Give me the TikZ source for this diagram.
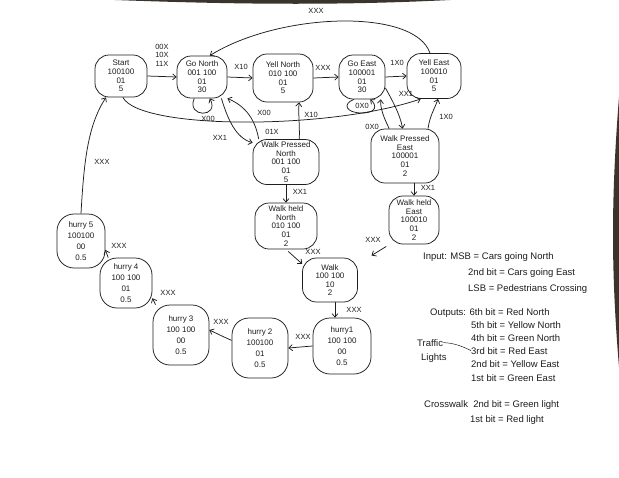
\documentclass[tikz,border=0pt]{standalone}
\usepackage{fontspec}
\setmainfont{Liberation Sans}
\usetikzlibrary{arrows.meta}
\definecolor{ink}{HTML}{1E1E1E}
\definecolor{paperedge}{HTML}{3A342D}
\begin{document}
\begin{tikzpicture}[x=1pt,y=-1pt,
  pen/.style={draw=ink, line width=0.75pt},
  state/.style={pen, rounded corners=14pt, align=center, inner sep=0pt, text=ink,
    font=\fontsize{8}{8.6}\selectfont},
  hstate/.style={state, rounded corners=17pt, font=\fontsize{8}{11}\selectfont},
  tr/.style={pen, -{Straight Barb[length=3.5pt,width=6pt]}},
  lbl/.style={text=ink, inner sep=0pt, align=center, font=\fontsize{7.5}{8.5}\selectfont},
  legend/.style={text=ink, inner sep=0pt, anchor=base west, font=\fontsize{9.5}{11}\selectfont}]

\useasboundingbox (0,0) rectangle (619,477);
\fill[white] (0,0) rectangle (619,477);
% dark edges of the sheet
\fill[paperedge] (115,0) .. controls (250,5) and (350,5) .. (450,0) -- cycle;
\fill[paperedge] (619,97) .. controls (611,200) and (611,270) .. (619,367) -- cycle;

% ---------- states ----------
\node[state, minimum width=52pt, minimum height=42pt] (start) at (121,76) {Start\\100100\\01\\5};
\node[state, minimum width=50pt, minimum height=42pt] (gonorth) at (202,77) {Go North\\001 100\\01\\30};
\node[state, minimum width=60pt, minimum height=48pt] (yellnorth) at (283,78) {Yell North\\010 100\\01\\5};
\node[state, minimum width=46pt, minimum height=44pt] (goeast) at (362,77) {Go East\\100001\\01\\30};
\node[state, minimum width=54pt, minimum height=45pt] (yelleast) at (434,76) {Yell East\\100010\\01\\5};
\node[state, minimum width=66pt, minimum height=45pt] (wpn) at (286,162) {Walk Pressed\\North\\001 100\\01\\5};
\node[state, minimum width=68pt, minimum height=54pt] (wpe) at (405,156) {Walk Pressed\\East\\100001\\01\\2};
\node[state, minimum width=62pt, minimum height=46pt] (whn) at (286,226) {Walk held\\North\\010 100\\01\\2};
\node[state, minimum width=50pt, minimum height=48pt] (whe) at (414,220) {Walk held\\East\\100010\\01\\2};
\node[state, minimum width=55pt, minimum height=44pt] (walk) at (330,280) {Walk\\100 100\\10\\2};
\node[hstate, minimum width=58pt, minimum height=56pt] (hurry1) at (342,346) {hurry1\\100 100\\00\\0.5};
\node[hstate, minimum width=56pt, minimum height=60pt] (hurry2) at (260,348) {hurry 2\\100100\\01\\0.5};
\node[hstate, minimum width=56pt, minimum height=60pt] (hurry3) at (181,335) {hurry 3\\100 100\\00\\0.5};
\node[hstate, minimum width=52pt, minimum height=50pt] (hurry4) at (126,283) {hurry 4\\100 100\\01\\0.5};
\node[hstate, minimum width=48pt, minimum height=54pt] (hurry5) at (81,241) {hurry 5\\100100\\00\\0.5};

% ---------- transitions ----------
\draw[tr] (start.east) -- (gonorth.west);
\draw[tr] (gonorth.east) -- (yellnorth.west);
\draw[tr] (yellnorth.east) -- (goeast.west);
\draw[tr] (goeast.east) -- (yelleast.west);
\draw[tr] (yelleast.100) .. controls (415,8) and (280,12) .. (gonorth.70);
\draw[tr] (gonorth.250) .. controls (186,118) and (220,118) .. (gonorth.290);
\draw[tr] ([xshift=-6pt]gonorth.south east) .. controls (228,120) and (236,138) .. (wpn.150);
\draw[tr] (wpn.140) .. controls (256,125) and (250,108) .. (gonorth.south east);
\draw[tr] (wpn.60) .. controls (300,128) and (298,112) .. (wpn.60 |- yellnorth.south);
\draw[tr] (start.275) .. controls (140,130) and (330,130) .. (yelleast.240);
\draw[tr] (goeast.250) .. controls (342,104) and (346,113) .. (362,113)
          .. controls (377,113) and (377,105) .. (goeast.290);
\draw[tr] (goeast.335) .. controls (392,100) and (400,114) .. (wpe.95);
\draw[tr] (wpe.120) .. controls (384,118) and (380,108) .. (goeast.310);
\draw[tr] (wpe.50) .. controls (430,115) and (435,108) .. (yelleast.280);
\draw[tr] (wpn.south) -- (whn.north);
\draw[tr] (wpe.south -| whe.north) -- (whe.north);
\draw[tr, shorten <=3pt] (whn.south) -- (walk.150);
\draw[tr, shorten <=4pt, shorten >=16pt] (whe.225) -- (walk.30);
\draw[tr] ([xshift=5pt]walk.south) -- ([xshift=-7pt]hurry1.north);
\draw[tr] (hurry1.west) -- (hurry2.east);
\draw[tr] (hurry2.165) .. controls (224,337) .. (hurry3.10);
\draw[tr] (hurry3.130) -- (hurry4.330);
\draw[tr] (hurry4.125) -- (hurry5.340);
\draw[tr] (hurry5.north) .. controls (84,160) and (88,125) .. (start.235);

% ---------- transition labels ----------
\node[lbl] (lab-sg) at (162,55) {00X\\10X\\11X};
\node[lbl] (lab-gy) at (241,67) {X10};
\node[lbl] (lab-yg) at (323,68) {XXX};
\node[lbl] (lab-ge) at (397,63) {1X0};
\node[lbl] (lab-back) at (316,11) {XXX};
\node[lbl] (lab-gn) at (208,119) {X00};
\node[lbl] (lab-gw) at (220,138) {XX1};
\node[lbl] (lab-wg1) at (264,113) {X00};
\node[lbl] (lab-wg2) at (272,132) {01X};
\node[lbl] (lab-wy) at (311,115) {X10};
\node[lbl] (lab-ee) at (362,106) {0X0};
\node[lbl] (lab-gw2) at (406,94) {XX1};
\node[lbl] (lab-eg) at (372,127) {0X0};
\node[lbl] (lab-ey) at (446,117) {1X0};
\node[lbl] (lab-nn) at (300,192) {XX1};
\node[lbl] (lab-ee2) at (428,188) {XX1};
\node[lbl] (lab-hw) at (313,252) {XXX};
\node[lbl] (lab-ew) at (373,240) {XXX};
\node[lbl] (lab-wh) at (354,310) {XXX};
\node[lbl] (lab-h12) at (303,337) {XXX};
\node[lbl] (lab-h23) at (221,322) {XXX};
\node[lbl] (lab-h34) at (168,293) {XXX};
\node[lbl] (lab-h45) at (119,246) {XXX};
\node[lbl] (lab-h5s) at (102,162) {XXX};

% ---------- legend ----------
\node[legend] (in1) at (423,259) {Input: MSB = Cars going North};
\node[legend] (in2) at (468,275) {2nd bit = Cars going East};
\node[legend] (in3) at (468,291) {LSB = Pedestrians Crossing};
\node[legend] (out6) at (430,315) {Outputs: 6th bit = Red North};
\node[legend] (out5) at (471,328) {5th bit = Yellow North};
\node[legend] (out4) at (471,341) {4th bit = Green North};
\node[legend] (out3) at (471,354) {3rd bit = Red East};
\node[legend] (out2) at (471,367) {2nd bit = Yellow East};
\node[legend] (out1) at (471,381) {1st bit = Green East};
\node[legend] (traffic) at (417,346) {Traffic};
\node[legend] (lights) at (421,360) {Lights};
\draw[pen, line width=0.5pt] (traffic.east) .. controls (452,343) and (460,345) .. (out3.west);
\node[legend] (cw2) at (424,407) {Crosswalk\ \ 2nd bit = Green light};
\node[legend] (cw1) at (470,422) {1st bit = Red light};
\end{tikzpicture}
\end{document}
